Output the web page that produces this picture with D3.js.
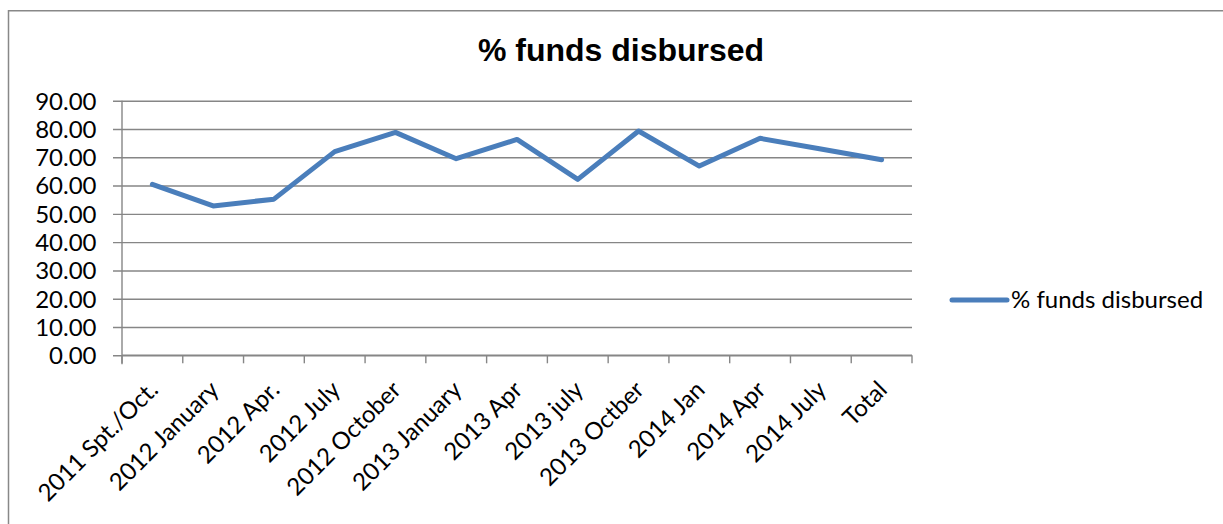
<!DOCTYPE html>
<html>
<head>
<meta charset="utf-8">
<script src="https://cdn.jsdelivr.net/npm/d3@7/dist/d3.min.js"></script>
<style>
  html, body { margin: 0; padding: 0; background: #fff; }
  svg { display: block; }
</style>
</head>
<body>
<svg id="chart" width="1223" height="524"></svg>
<script>
// Disbursement rate per reporting round
const categories = [
  "2011 Spt./Oct.", "2012 January", "2012 Apr.", "2012 July", "2012 October",
  "2013 January", "2013 Apr", "2013 july", "2013 Octber", "2014 Jan",
  "2014 Apr", "2014 July", "Total"
];
const fundsDisbursed = [60.4, 52.8, 55.2, 72.0, 78.8, 69.5, 76.3, 62.2, 79.3, 66.9, 76.7, 72.9, 69.1];
const yTicks = [0, 10, 20, 30, 40, 50, 60, 70, 80, 90];
const seriesName = "% funds disbursed";
const chartTitle = "% funds disbursed";

const svg = d3.select("#chart");
const W = 1223, H = 524;
const plot = { left: 122, right: 912, top: 100.7, bottom: 355.3 };
const gridColor = "#868686";
const lineColor = "#4a7ebb";
const labelFont = "Lato, 'Open Sans', sans-serif";

svg.append("rect").attr("width", W).attr("height", H).attr("fill", "#fff");

// Outer chart frame (runs off the right and bottom edges)
svg.append("rect")
  .attr("x", 8.5).attr("y", 10.75)
  .attr("width", W + 20).attr("height", H + 20)
  .attr("fill", "none").attr("stroke", "#888").attr("stroke-width", 1.5);

const x = d3.scaleBand().domain(categories).range([plot.left, plot.right]).padding(0);
const y = d3.scaleLinear().domain([0, 90]).range([plot.bottom, plot.top]);

// Title
svg.append("text")
  .attr("x", 621).attr("y", 61)
  .attr("text-anchor", "middle")
  .attr("font-family", "'Liberation Sans', Arial, sans-serif")
  .attr("font-weight", "bold")
  .attr("font-size", 32)
  .attr("fill", "#000")
  .text(chartTitle);

// Horizontal gridlines with left tick marks
const yAxis = d3.axisLeft(y)
  .tickValues(yTicks)
  .tickSize(-(plot.right - plot.left))
  .tickSizeOuter(0)
  .tickPadding(0)
  .tickFormat(d3.format(".2f"));
const gy = svg.append("g").attr("transform", `translate(${plot.left},0)`).call(yAxis);
gy.select(".domain").remove();
gy.selectAll(".tick line")
  .attr("x1", -9)
  .attr("stroke", gridColor).attr("stroke-width", 1.4);
gy.selectAll(".tick text")
  .attr("x", -25.5)
  .attr("dy", "0.35em")
  .attr("font-family", labelFont)
  .attr("font-size", 24)
  .attr("fill", "#000");

// Vertical axis line
svg.append("line")
  .attr("x1", plot.left).attr("x2", plot.left)
  .attr("y1", y(90)).attr("y2", y(0) + 9)
  .attr("stroke", gridColor).attr("stroke-width", 1.4);

// Category axis: tick marks sit on the band boundaries
const xAxis = d3.axisBottom(x).tickSize(0).tickSizeOuter(0).tickPadding(0);
const gx = svg.append("g").attr("transform", `translate(0,${plot.bottom})`).call(xAxis);
gx.select(".domain").remove();
gx.selectAll(".tick line").remove();
gx.selectAll(".tick text")
  .attr("text-anchor", "end")
  .attr("transform", "translate(7,36) rotate(-45)")
  .attr("y", 0).attr("dy", 0)
  .attr("font-family", labelFont)
  .attr("font-size", 24)
  .attr("fill", "#000");

const boundaries = categories.map(c => x(c)).concat([x.range()[1]]);
svg.append("g").selectAll("line.xt")
  .data(boundaries)
  .join("line")
  .attr("x1", d => d).attr("x2", d => d)
  .attr("y1", plot.bottom).attr("y2", plot.bottom + 8)
  .attr("stroke", gridColor).attr("stroke-width", 1.4);
svg.append("line")
  .attr("x1", plot.left).attr("x2", plot.right)
  .attr("y1", plot.bottom).attr("y2", plot.bottom)
  .attr("stroke", gridColor).attr("stroke-width", 1.4);

// Data line
const line = d3.line()
  .x((d, i) => x(categories[i]) + x.bandwidth() / 2)
  .y(d => y(d));
svg.append("path")
  .datum(fundsDisbursed)
  .attr("d", line)
  .attr("fill", "none")
  .attr("stroke", lineColor)
  .attr("stroke-width", 5)
  .attr("stroke-linejoin", "round")
  .attr("stroke-linecap", "round");

// Legend
const legend = svg.append("g").attr("transform", "translate(952,300)");
legend.append("line")
  .attr("x1", 0).attr("x2", 55)
  .attr("stroke", lineColor).attr("stroke-width", 5)
  .attr("stroke-linecap", "round");
legend.append("text")
  .attr("x", 59).attr("y", 0).attr("dy", "0.35em")
  .attr("font-family", labelFont)
  .attr("font-size", 24)
  .attr("fill", "#000")
  .text(seriesName);
</script>
</body>
</html>
